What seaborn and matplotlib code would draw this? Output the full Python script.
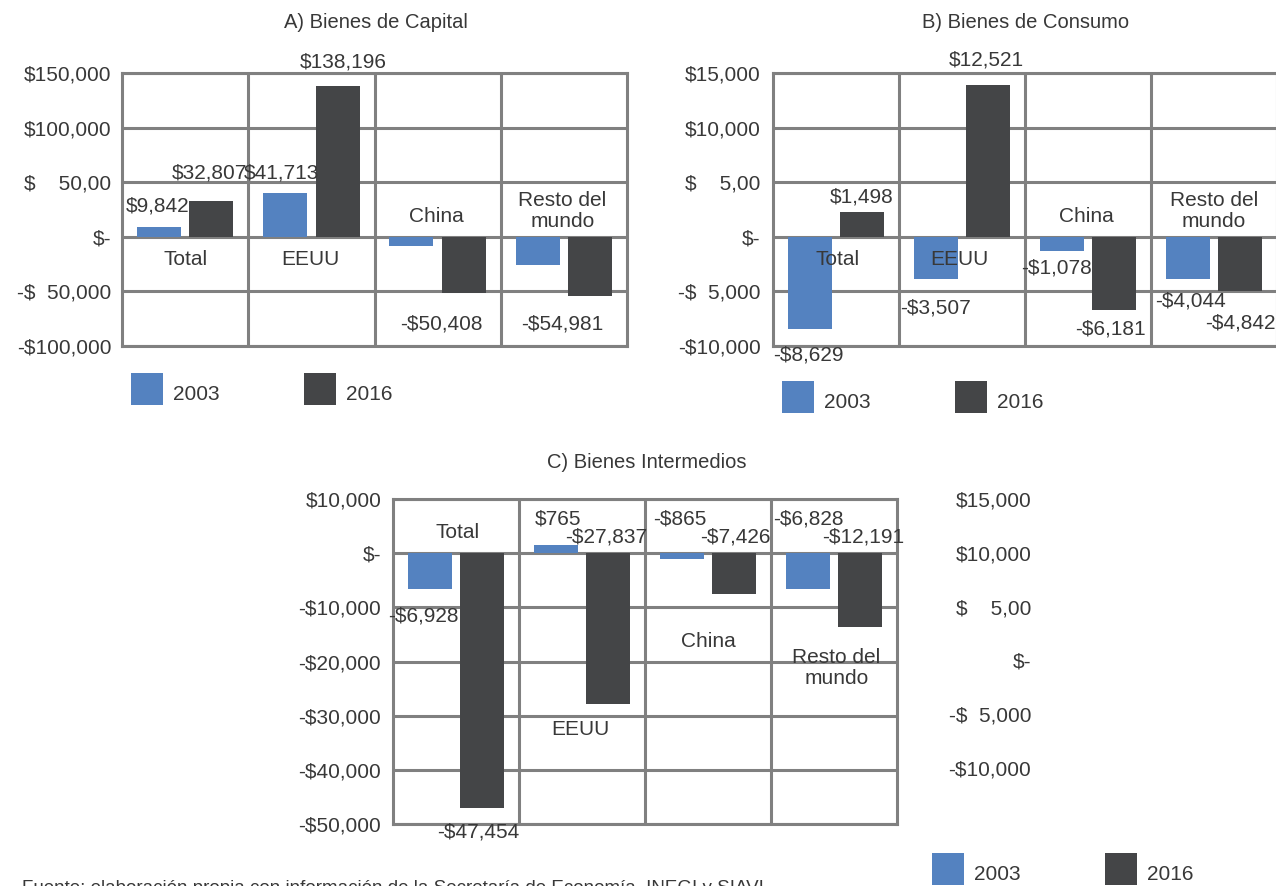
import pandas as pd
import numpy as np
import seaborn as sns
import matplotlib.pyplot as plt
from matplotlib.patches import Rectangle

# categories / series
regiones = ["Total", "EEUU", "China", "Resto del mundo"]
anios = ["2003", "2016"]

# bar heights (the printed labels do not always match them)
capital_2003 = [9000, 40400, -8600, -26200]
capital_2016 = [33000, 138200, -51500, -54000]
consumo_2003 = [-8400, -3900, -1280, -3900]
consumo_2016 = [2300, 13900, -6660, -4920]
interm_2003 = [-6600, 1600, -1040, -6600]
interm_2016 = [-47100, -27800, -7500, -13700]

# printed data labels
capital_txt = ["$9,842", "$32,807", "$41,713", "$138,196", "-$50,408", "-$54,981"]
consumo_txt = ["$1,498", "-$8,629", "$12,521", "-$3,507", "-$1,078", "-$6,181", "-$4,044", "-$4,842"]
interm_txt = ["-$6,928", "-$47,454", "$765", "-$27,837", "-$865", "-$7,426", "-$6,828", "-$12,191"]

cap_ticks = [150000, 100000, 50000, 0, -50000, -100000]
cap_ticklabels = ["$150,000", "$100,000", "$    50,00", "$-", "-$  50,000", "-$100,000"]
con_ticks = [15000, 10000, 5000, 0, -5000, -10000]
con_ticklabels = ["$15,000", "$10,000", "$    5,00", "$-", "-$  5,000", "-$10,000"]
int_ticks = [10000, 0, -10000, -20000, -30000, -40000, -50000]
int_ticklabels = ["$10,000", "$-", "-$10,000", "-$20,000", "-$30,000", "-$40,000", "-$50,000"]

AZUL = "#5482c0"
GRIS = "#444547"
LINEA = "#808080"
TXT = "#383838"

sns.set_theme(style="white")
plt.rcParams['font.family'] = ['Liberation Sans', 'DejaVu Sans']

W, H = 1276, 886
fig = plt.figure(figsize=(W / 100, H / 100), dpi=100)


def px(x, y):
    return x / W, 1 - y / H


def make_df(v03, v16):
    return pd.DataFrame({
        "region": regiones * 2,
        "anio": [anios[0]] * 4 + [anios[1]] * 4,
        "valor": v03 + v16,
    })


def panel(rect, v03, v16, ylim, ticks, ticklabels, pad):
    ax = fig.add_axes(rect)
    sns.barplot(data=make_df(v03, v16), x="region", y="valor", hue="anio",
                palette=[AZUL, GRIS], width=0.83, gap=0.16, saturation=1,
                linewidth=0, legend=False, ax=ax, zorder=3)
    ax.set_xlim(-0.5, 3.5)
    ax.set_ylim(*ylim)
    ax.set_yticks(ticks)
    ax.set_yticklabels(ticklabels)
    ax.set_xticks([])
    ax.set_xticks([0.5, 1.5, 2.5], minor=True)
    ax.set_xlabel("")
    ax.set_ylabel("")
    ax.tick_params(axis="y", length=0, pad=pad, labelsize=15, colors=TXT)
    ax.tick_params(axis="x", which="both", length=0)
    ax.grid(True, axis="y", which="major", color=LINEA, lw=2.2)
    ax.grid(True, axis="x", which="minor", color=LINEA, lw=2.2)
    ax.set_axisbelow(True)
    for s in ax.spines.values():
        s.set_visible(True)
        s.set_color(LINEA)
        s.set_linewidth(2.2)
    return ax


def etiquetas(ax, textos, pos, fs=15):
    for t, (x, y) in zip(textos, pos):
        ax.text(x, y, t, ha="center", va="center", fontsize=fs, color=TXT,
                clip_on=False, zorder=6)


def cats(ax, pos):
    nombres = ["Total", "EEUU", "China", "Resto del\nmundo"]
    for t, (x, y) in zip(nombres, pos):
        ax.text(x, y, t, ha="center", va="center", fontsize=15, color=TXT,
                linespacing=1.15, zorder=6)


def leyenda(x0, y0, x1, ty):
    for x, col, lab in [(x0, AZUL, anios[0]), (x1, GRIS, anios[1])]:
        fig.add_artist(Rectangle(px(x, y0 + 32), 32 / W, 32 / H,
                                 transform=fig.transFigure, color=col, lw=0))
        fig.text(*px(x + 42, ty), lab, ha="left", va="center", fontsize=15, color=TXT)


# A) Bienes de Capital
axA = panel([122 / W, 1 - 346 / H, 505 / W, 273 / H], capital_2003, capital_2016,
            (-100000, 150000), cap_ticks, cap_ticklabels, 7.5)
etiquetas(axA, capital_txt, [(-0.22, 28400), (0.19, 58700), (0.76, 58700),
                             (1.25, 160500), (2.03, -79800), (2.99, -79800)])
cats(axA, [(0.0, -21100), (0.99, -21100), (1.99, 18300), (2.99, 23800)])
fig.text(*px(376, 22), "A) Bienes de Capital", ha="center", va="center", fontsize=14.5, color=TXT)
leyenda(131, 373, 304, 395)

# B) Bienes de Consumo
axB = panel([773 / W, 1 - 346 / H, 504 / W, 273 / H], consumo_2003, consumo_2016,
            (-10000, 15000), con_ticks, con_ticklabels, 9)
etiquetas(axB, consumo_txt, [(0.20, 3670), (-0.22, -10830), (1.19, 16150), (0.79, -6510),
                             (1.75, -2840), (2.18, -8440), (2.81, -5870), (3.21, -7890)])
cats(axB, [(0.01, -2110), (0.98, -2110), (1.99, 1830), (3.0, 2380)])
fig.text(*px(1026, 22), "B) Bienes de Consumo", ha="center", va="center", fontsize=14.5, color=TXT)
leyenda(782, 381, 955, 403)

# C) Bienes Intermedios
axC = panel([393 / W, 1 - 824 / H, 504 / W, 325 / H], interm_2003, interm_2016,
            (-50000, 10000), int_ticks, int_ticklabels, 8.5)
etiquetas(axC, interm_txt, [(-0.26, -11630), (0.18, -51500), (0.81, 6280), (1.19, 2950),
                            (1.78, 6280), (2.22, 2950), (2.80, 6280), (3.23, 2950)])
cats(axC, [(0.01, 3880), (0.99, -32490), (2.0, -16250), (3.02, -21230)])
fig.text(*px(647, 462), "C) Bienes Intermedios", ha="center", va="center", fontsize=14.5, color=TXT)
leyenda(932, 853, 1105, 874)

# leftover value axis on the right of panel C
axR = fig.add_axes([1043 / W, 1 - 768 / H, 0.01, 269 / H])
axR.set_ylim(-10000, 15000)
axR.set_yticks(con_ticks)
axR.set_yticklabels(con_ticklabels)
axR.set_xticks([])
axR.tick_params(axis="y", length=0, pad=8.5, labelsize=15, colors=TXT)
axR.patch.set_visible(False)
for s in axR.spines.values():
    s.set_visible(False)

fig.text(22 / W, 1 - 880 / H,
         "Fuente: elaboración propia con información de la Secretaría de Economía, INEGI y SIAVI.",
         ha="left", va="top", fontsize=13.5, color=TXT)

fig.savefig("out.png", dpi=100)
